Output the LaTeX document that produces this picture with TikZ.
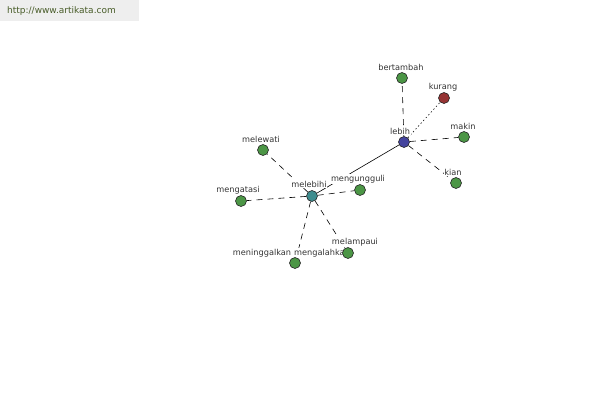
\documentclass[tikz,border=0pt]{standalone}
\usepackage{fontspec}
\setmainfont{DejaVu Sans}
\usetikzlibrary{backgrounds}
\definecolor{wordgreen}{RGB}{76,150,70}
\definecolor{hubblue}{RGB}{68,68,158}
\definecolor{hubteal}{RGB}{62,140,142}
\definecolor{wordred}{RGB}{150,52,52}
\definecolor{urlgreen}{RGB}{72,92,40}
\definecolor{urlgrey}{RGB}{238,238,238}
\begin{document}
\begin{tikzpicture}[
    x=1pt, y=-1pt,
    word/.style={circle, draw=black!85, line width=0.6pt, minimum size=11pt, inner sep=0pt, fill=wordgreen},
    lbl/.style={fill=white, inner sep=0.6pt, text=black!80, font=\fontsize{8.2}{9}\selectfont},
    link/.style={line width=0.6pt, dash pattern=on 6pt off 5pt},
    dotlink/.style={line width=0.6pt, dash pattern=on 1.4pt off 2.4pt},
    solidlink/.style={line width=0.6pt}
]
    \useasboundingbox (0,0) rectangle (600,400);

    % source stamp
    \node[fill=urlgrey, text width=125pt, inner xsep=7pt, minimum height=21pt, anchor=north west,
          text=urlgreen, font=\fontsize{9}{10}\selectfont] (url) at (0,0) {http://www.artikata.com};

    % labels
    \node[lbl] (bertambahL) at (401,67) {bertambah};
    \node[lbl] (kurangL) at (443,87) {kurang};
    \node[lbl] (lebihL) at (400,131) {lebih};
    \node[lbl] (makinL) at (463,126) {makin};
    \node[lbl] (kianL) at (453,172) {kian};
    \node[lbl] (melewatiL) at (261,139) {melewati};
    \node[lbl] (mengatasiL) at (238,190) {mengatasi};
    \node[lbl] (melebihiL) at (309,184) {melebihi};
    \node[lbl] (mengungguliL) at (358,179) {mengungguli};
    \node[lbl] (meninggalkanL) at (262,253) {meninggalkan};
    \node[lbl] (mengalahkanL) at (322,253) {mengalahkan};
    \node[lbl] (melampauiL) at (355,242) {melampaui};

    % words
    \node[word, fill=hubblue] (lebih) at (404,142) {};
    \node[word] (bertambah) at (402,78) {};
    \node[word, fill=wordred] (kurang) at (444,98) {};
    \node[word] (makin) at (464,137) {};
    \node[word] (kian) at (456,183) {};
    \node[word, fill=hubteal] (melebihi) at (312,196) {};
    \node[word] (melewati) at (263,150) {};
    \node[word] (mengatasi) at (241,201) {};
    \node[word] (mengungguli) at (360,190) {};
    \node[word] (meninggalkan) at (295,263) {};
    \node[word] (melampaui) at (348,253) {};

    \begin{pgfonlayer}{background}
        \draw[solidlink] (lebih) -- (melebihi);
        \draw[link] (lebih) -- (bertambah);
        \draw[dotlink] (lebih) -- (kurang);
        \draw[link] (lebih) -- (makin);
        \draw[link] (lebih) -- (kian);
        \draw[link] (melebihi) -- (melewati);
        \draw[link] (melebihi) -- (mengatasi);
        \draw[link] (melebihi) -- (mengungguli);
        \draw[link] (melebihi) -- (meninggalkan);
        \draw[link] (melebihi) -- (melampaui);
    \end{pgfonlayer}
\end{tikzpicture}
\end{document}
